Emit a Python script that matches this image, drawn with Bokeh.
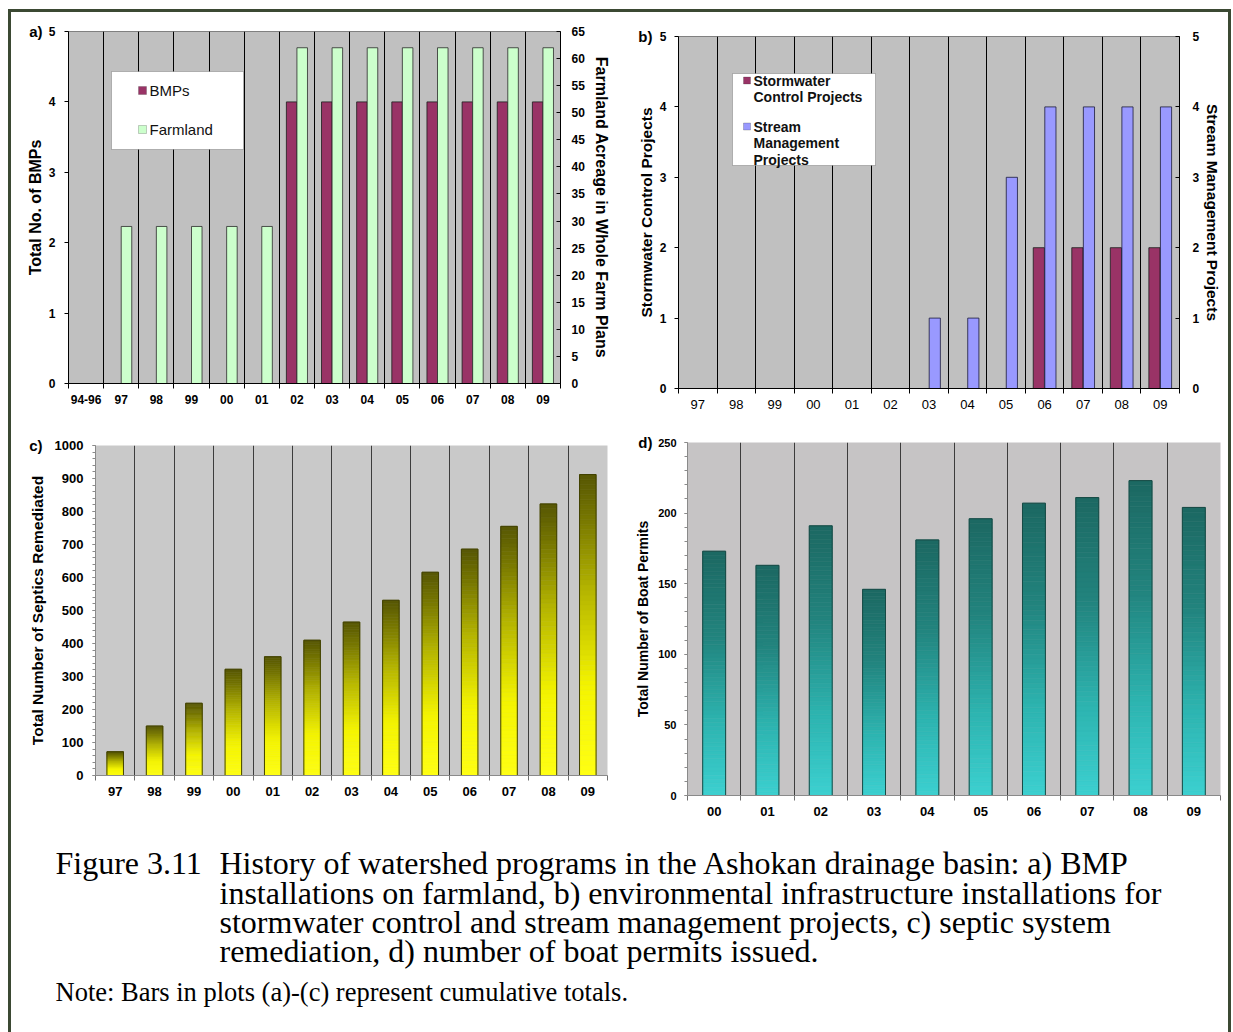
import numpy as np
from bokeh.plotting import figure
from bokeh.models import Range1d, LinearAxis, FixedTicker, Label, BoxAnnotation
from bokeh.layouts import column, row
from bokeh.core.properties import value
from bokeh.embed import file_html
from bokeh.resources import INLINE

SANS = "Liberation Sans"
SERIF = "Liberation Serif"

# ---------------- data ----------------
a_years = ["94-96", "97", "98", "99", "00", "01", "02", "03", "04", "05", "06", "07", "08", "09"]
a_bmps = [0, 0, 0, 0, 0, 0, 4, 4, 4, 4, 4, 4, 4, 4]
a_farmland = [0, 29, 29, 29, 29, 29, 62, 62, 62, 62, 62, 62, 62, 62]
a_left_ticks = [0, 1, 2, 3, 4, 5]
a_right_ticks = [0, 5, 10, 15, 20, 25, 30, 35, 40, 45, 50, 55, 60, 65]

b_years = ["97", "98", "99", "00", "01", "02", "03", "04", "05", "06", "07", "08", "09"]
b_stormwater = [0, 0, 0, 0, 0, 0, 0, 0, 0, 2, 2, 2, 2]
b_stream = [0, 0, 0, 0, 0, 0, 1, 1, 3, 4, 4, 4, 4]
b_ticks = [0, 1, 2, 3, 4, 5]

c_years = ["97", "98", "99", "00", "01", "02", "03", "04", "05", "06", "07", "08", "09"]
c_septics = [72, 150, 219, 322, 360, 410, 465, 531, 616, 686, 755, 823, 912]
c_ticks = [0, 100, 200, 300, 400, 500, 600, 700, 800, 900, 1000]

d_years = ["00", "01", "02", "03", "04", "05", "06", "07", "08", "09"]
d_permits = [173, 163, 191, 146, 181, 196, 207, 211, 223, 204]
d_ticks = [0, 50, 100, 150, 200, 250]

caption_lines = [
    "History of watershed programs in the Ashokan drainage basin: a) BMP",
    "installations on farmland, b) environmental infrastructure installations for",
    "stormwater control and stream management projects, c) septic system",
    "remediation, d) number of boat permits issued.",
]
caption_head = "Figure 3.11"
note_text = "Note: Bars in plots (a)-(c) represent cumulative totals."

# ---------------- layout (page pixels) ----------------
FRAME_COLOR = "#3b4933"
OX, OY = 11, 12
SPLIT = 618
W_L, W_R = SPLIT - OX, 1228 - SPLIT
H1, H2, H3 = 408, 415, 197


def hex2rgb(h):
    h = h.lstrip("#")
    return tuple(int(h[i:i + 2], 16) for i in (0, 2, 4))


def grad(stops, t):
    for (t0, c0), (t1, c1) in zip(stops[:-1], stops[1:]):
        if t <= t1:
            f = (t - t0) / (t1 - t0)
            a, b = hex2rgb(c0), hex2rgb(c1)
            return "#%02x%02x%02x" % tuple(int(round(a[i] + (b[i] - a[i]) * f)) for i in range(3))
    return stops[-1][1]


def make_fig(w, h, n, yr, page_xy, frame, bg):
    px, py = page_xy
    L, R, T, B = frame
    p = figure(width=w, height=h, x_range=Range1d(-0.5, n - 0.5), y_range=Range1d(*yr),
               output_backend="svg", toolbar_location=None, title=None, frame_align=False,
               min_border_left=L - px, min_border_right=px + w - R,
               min_border_top=T - py, min_border_bottom=py + h - B,
               background_fill_color=bg, border_fill_color="white")
    p.ygrid.grid_line_color = None
    p.xgrid.ticker = FixedTicker(ticks=[float(i) + 0.5 for i in range(n - 1)])
    return p


def style_x(p, labels, size, bold, standoff, tick_color, axis_color):
    n = len(labels)
    ax = p.xaxis[0]
    ax.ticker = FixedTicker(ticks=list(range(n)), minor_ticks=[float(i) - 0.5 for i in range(n + 1)])
    ax.major_label_overrides = {i: s for i, s in enumerate(labels)}
    ax.major_tick_line_color = None
    ax.major_tick_out = 0
    ax.major_tick_in = 0
    ax.minor_tick_out = 5
    ax.minor_tick_in = 0
    ax.minor_tick_line_color = tick_color
    ax.axis_line_color = axis_color
    ax.major_label_standoff = standoff
    ax.major_label_text_font = SANS
    ax.major_label_text_font_size = size
    ax.major_label_text_font_style = "bold" if bold else "normal"
    ax.major_label_text_color = "black"


def style_y(ax, ticks, size, standoff, title, title_size, title_standoff,
            tick_out=4, tick_in=0, color="black", minor=None):
    ax.ticker = FixedTicker(ticks=ticks, minor_ticks=minor or [])
    ax.major_tick_out = tick_out
    ax.major_tick_in = tick_in
    ax.major_tick_line_color = color
    ax.minor_tick_out = 3
    ax.minor_tick_in = 0
    ax.minor_tick_line_color = color
    ax.axis_line_color = color
    ax.major_label_standoff = standoff
    ax.major_label_text_font = SANS
    ax.major_label_text_font_size = size
    ax.major_label_text_font_style = "bold"
    ax.major_label_text_color = "black"
    ax.axis_label = title
    ax.axis_label_text_font = SANS
    ax.axis_label_text_font_size = title_size
    ax.axis_label_text_font_style = "bold"
    ax.axis_label_text_color = "black"
    ax.axis_label_standoff = title_standoff


def tag_axis(p, y, text, standoff):
    # panel letter ("a)" ...) drawn as the single tick label of an outer, line-less axis
    ax = LinearAxis(ticker=FixedTicker(ticks=[y]), major_label_overrides={y: text},
                    axis_line_color=None, major_tick_line_color=None, minor_tick_line_color=None,
                    major_tick_out=0, major_tick_in=0, major_label_standoff=standoff,
                    major_label_text_font=SANS, major_label_text_font_size="15px",
                    major_label_text_font_style="bold", major_label_text_color="black")
    p.add_layout(ax, "left")


def to_data(frame, xr, yr):
    L, R, T, B = frame

    def f(px, py):
        return (xr[0] + (px - L) * (xr[1] - xr[0]) / (R - L),
                yr[0] + (B - py) * (yr[1] - yr[0]) / (B - T))
    return f


def legend_box(p, conv, box, items, font_size, bold, line_h):
    x0, y0 = conv(box[0], box[3])
    x1, y1 = conv(box[1], box[2])
    p.add_layout(BoxAnnotation(left=x0, right=x1, bottom=y0, top=y1, fill_color="white",
                               fill_alpha=1.0, line_color="#3a3a3a", line_width=1, level="annotation"))
    for (mx, my, msz, color, lines) in items:
        a0, b0 = conv(mx, my + msz / 2)
        a1, b1 = conv(mx + msz, my - msz / 2)
        p.add_layout(BoxAnnotation(left=a0, right=a1, bottom=b0, top=b1, fill_color=color,
                                   fill_alpha=1.0, line_color="#303030", line_width=0.8,
                                   level="annotation"))
        for k, t in enumerate(lines):
            lx, ly = conv(mx + msz + 3, my + k * line_h)
            p.add_layout(Label(x=lx, y=ly, text=t, text_font=SANS, text_font_size=font_size,
                               text_font_style="bold" if bold else "normal",
                               text_baseline="middle", text_color="#111111"))


# ---------------- panel a ----------------
FA = (68, 560, 31, 383)
pa = make_fig(W_L, H1, len(a_years), (0, 5), (OX, OY), FA, "#c0c0c0")
pa.extra_y_ranges = {"acre": Range1d(0, 65)}
pa.outline_line_color = "#808080"
pa.xgrid.grid_line_color = "black"
pa.xgrid.grid_line_width = 1
style_x(pa, a_years, "12px", True, 6, "black", "black")
style_y(pa.yaxis[0], a_left_ticks, "12px", 9, "Total No. of BMPs", "16px", 2)
ra = LinearAxis(y_range_name="acre")
style_y(ra, a_right_ticks, "12px", 11, "Farmland Acreage in Whole Farm Plans", "16px", 5,
        tick_out=0, tick_in=4)
pa.add_layout(ra, "right")
tag_axis(pa, 5, "a)", -19)

ia = np.arange(len(a_years))
bm = np.array(a_bmps)
fm = np.array(a_farmland)
pa.vbar(x=(ia[bm > 0] - 0.15).tolist(), top=bm[bm > 0].tolist(), width=0.30,
        fill_color="#993366", line_color="#1a1a1a", line_width=0.8)
pa.vbar(x=(ia[fm > 0] + 0.15).tolist(), top=fm[fm > 0].tolist(), width=0.30,
        fill_color="#ccffcc", line_color="#2a2a2a", line_width=0.8, y_range_name="acre")
ca = to_data(FA, (-0.5, len(a_years) - 0.5), (0, 5))
legend_box(pa, ca, (111, 243, 71, 149),
           [(138, 90, 8, "#993366", ["BMPs"]), (138, 129, 8, "#ccffcc", ["Farmland"])],
           "15px", False, 16)

# ---------------- panel b ----------------
FB = (678, 1179, 36, 388)
pb = make_fig(W_R, H1, len(b_years), (0, 5), (SPLIT, OY), FB, "#c0c0c0")
pb.extra_y_ranges = {"stream": Range1d(0, 5)}
pb.outline_line_color = "#808080"
pb.xgrid.grid_line_color = "black"
pb.xgrid.grid_line_width = 1
style_x(pb, b_years, "13px", False, 6, "black", "black")
style_y(pb.yaxis[0], b_ticks, "12px", 8, "Stormwater Control Projects", "15.5px", 2)
rb = LinearAxis(y_range_name="stream")
style_y(rb, b_ticks, "12px", 13, "Stream Management Projects", "15.5px", 2, tick_out=0, tick_in=4)
pb.add_layout(rb, "right")
tag_axis(pb, 5, "b)", -18)

ib = np.arange(len(b_years))
sw = np.array(b_stormwater)
st = np.array(b_stream)
pb.vbar(x=(ib[sw > 0] - 0.15).tolist(), top=sw[sw > 0].tolist(), width=0.29,
        fill_color="#993366", line_color="#1a1a1a", line_width=0.8)
pb.vbar(x=(ib[st > 0] + 0.15).tolist(), top=st[st > 0].tolist(), width=0.29,
        fill_color="#9999ff", line_color="#1a1a3a", line_width=0.8, y_range_name="stream")
cb = to_data(FB, (-0.5, len(b_years) - 0.5), (0, 5))
legend_box(pb, cb, (732, 875, 73, 165),
           [(743, 80, 7, "#993366", ["Stormwater", "Control Projects"]),
            (743, 126, 7, "#9999ff", ["Stream", "Management", "Projects"])],
           "14px", True, 16.5)

# ---------------- panel c ----------------
FC = (95, 607, 445, 775)
pc = make_fig(W_L, H2, len(c_years), (0, 1000), (OX, OY + H1), FC, "#c9c9c9")
pc.outline_line_color = None
pc.xgrid.grid_line_color = "#3c3c3c"
pc.xgrid.grid_line_width = 1
style_x(pc, c_years, "13px", True, 6, "#707070", "#8a8a8a")
style_y(pc.yaxis[0], c_ticks, "13px", 9, "Total Number of Septics Remediated", "15.5px", 6,
        tick_out=3, color="#8a8a8a", minor=list(range(0, 1001, 20)))
tag_axis(pc, 1000, "c)", -17)

K = 60
c_stops = [(0.0, "#ffff14"), (0.3, "#f4f400"), (0.62, "#b4b400"), (0.85, "#787800"), (1.0, "#565604")]
xs, bots, tops, cols = [], [], [], []
for i, v in enumerate(c_septics):
    for k in range(K):
        xs.append(i)
        bots.append(v * k / K)
        tops.append(v * (k + 1) / K)
        cols.append(grad(c_stops, (k + 0.5) / K))
pc.vbar(x=xs, bottom=bots, top=tops, width=0.42, fill_color=cols, line_color=cols, line_width=0.6)
pc.vbar(x=list(range(len(c_years))), top=c_septics, width=0.42, fill_color=None,
        line_color="#404000", line_width=1)

# ---------------- panel d ----------------
FD = (687, 1220, 442, 795)
pd_ = make_fig(W_R, H2, len(d_years), (0, 250), (SPLIT, OY + H1), FD, "#c6c4c5")
pd_.outline_line_color = None
pd_.xgrid.grid_line_color = "#3c3c3c"
pd_.xgrid.grid_line_width = 1
style_x(pd_, d_years, "13px", True, 6, "#707070", "#8a8a8a")
style_y(pd_.yaxis[0], d_ticks, "11px", 8, "Total Number of Boat Permits", "14px", 4,
        tick_out=3, color="#8a8a8a", minor=list(range(0, 251, 10)))
tag_axis(pd_, 250, "d)", -20)

d_stops = [(0.0, "#3cd0d0"), (0.3, "#2db4b0"), (0.65, "#22847e"), (1.0, "#1c6862")]
xs, bots, tops, cols = [], [], [], []
for i, v in enumerate(d_permits):
    for k in range(K):
        xs.append(i)
        bots.append(v * k / K)
        tops.append(v * (k + 1) / K)
        cols.append(grad(d_stops, (k + 0.5) / K))
pd_.vbar(x=xs, bottom=bots, top=tops, width=0.43, fill_color=cols, line_color=cols, line_width=0.6)
pd_.vbar(x=list(range(len(d_years))), top=d_permits, width=0.43, fill_color=None,
         line_color="#174a45", line_width=1)

# ---------------- caption ----------------
CW = 1228 - OX
pcap = figure(width=CW, height=H3, x_range=Range1d(0, CW), y_range=Range1d(H3, 0),
              output_backend="svg", toolbar_location=None, x_axis_type=None, y_axis_type=None,
              title=None, frame_align=False,
              min_border=0, outline_line_color=None, background_fill_color="white",
              border_fill_color="white")
pcap.xgrid.grid_line_color = None
pcap.ygrid.grid_line_color = None
cap_top = OY + H1 + H2
base_y = [862, 892, 921, 950]
pcap.text(x=[55 - OX], y=[base_y[0] - cap_top], text=[caption_head], text_font=value(SERIF),
          text_font_size="32px", text_baseline="alphabetic", text_color="black")
pcap.text(x=[219 - OX] * len(caption_lines), y=[b - cap_top for b in base_y], text=caption_lines,
          text_font=value(SERIF), text_font_size="32px", text_baseline="alphabetic",
          text_color="black")
pcap.text(x=[55 - OX], y=[991 - cap_top], text=[note_text], text_font=value(SERIF),
          text_font_size="26.5px", text_baseline="alphabetic", text_color="black")

root = column(row(pa, pb), row(pc, pd_), pcap,
              styles={"margin-left": "8px", "margin-top": "9px",
                      "border-left": "3px solid " + FRAME_COLOR,
                      "border-top": "3px solid " + FRAME_COLOR,
                      "border-right": "3px solid " + FRAME_COLOR})

open("out.html", "w").write(file_html(root, INLINE))
